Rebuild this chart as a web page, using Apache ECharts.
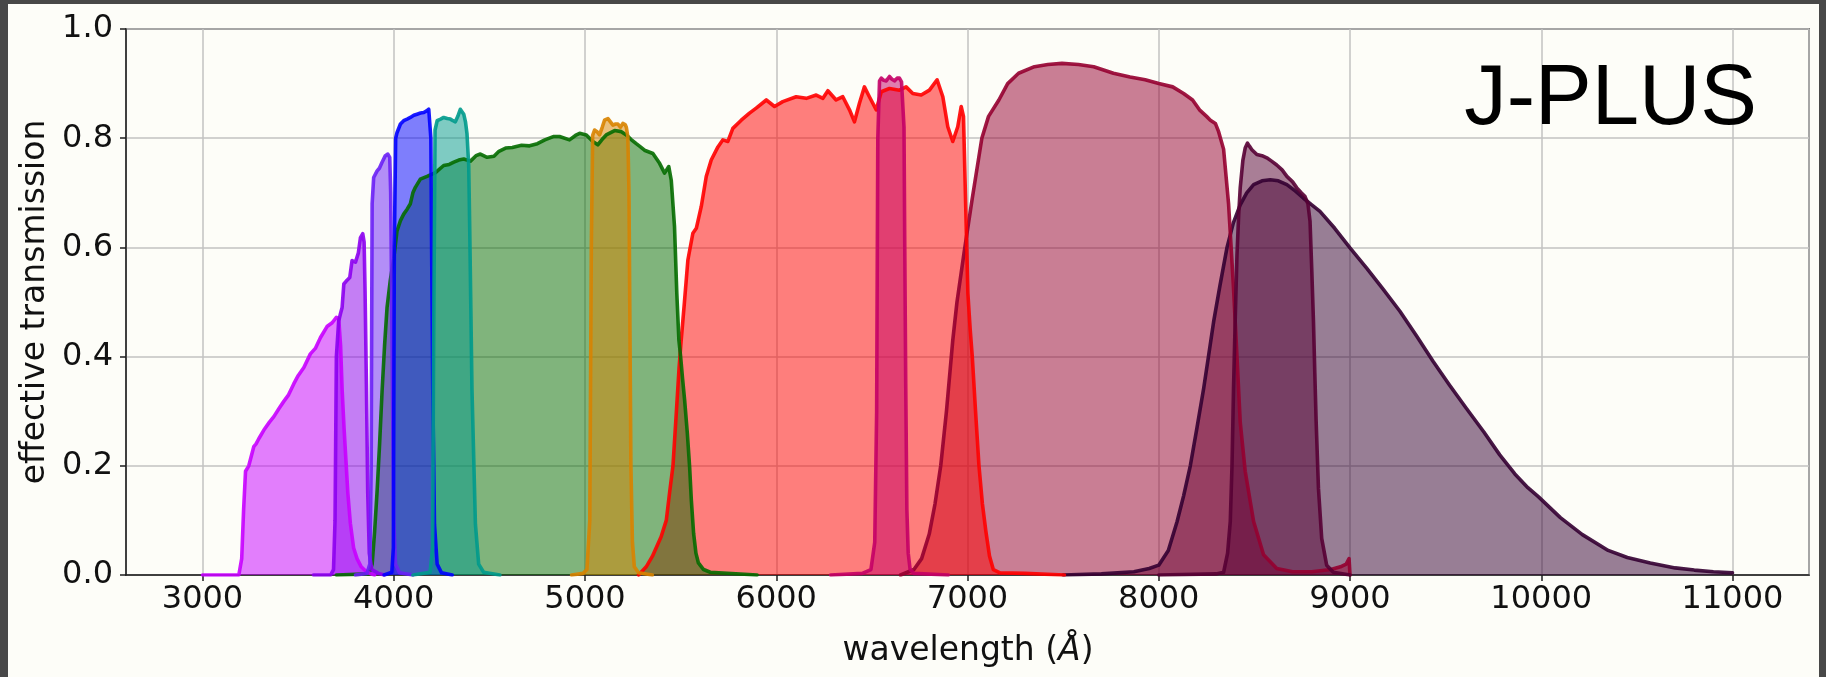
<!DOCTYPE html>
<html><head><meta charset="utf-8">
<script src="https://cdn.jsdelivr.net/npm/echarts@6/dist/echarts.min.js"></script>
<style>html,body{margin:0;padding:0;background:#fdfdf8;}#c{width:1826px;height:677px;}</style>
</head><body><div id="c"></div>
<script>
// ---- data: [wavelength (Å), effective transmission] ----
const uJAVA = [[3000,0],[3190,0],[3205,0.03],[3215,0.12],[3225,0.19],[3242,0.2],[3268,0.235],[3280,0.24],[3295,0.25],[3320,0.265],[3350,0.28],[3373,0.29],[3400,0.305],[3425,0.318],[3450,0.33],[3477,0.35],[3500,0.365],[3530,0.38],[3564,0.405],[3590,0.415],[3617,0.435],[3651,0.455],[3678,0.462],[3700,0.472],[3712,0.47],[3722,0.42],[3730,0.34],[3740,0.27],[3750,0.21],[3760,0.15],[3773,0.095],[3790,0.05],[3808,0.03],[3830,0.015],[3860,0.005],[3900,0]];
const J0378 = [[3580,0],[3670,0],[3685,0.01],[3693,0.1],[3700,0.4],[3712,0.465],[3721,0.478],[3730,0.49],[3739,0.533],[3756,0.54],[3770,0.545],[3782,0.576],[3800,0.573],[3815,0.59],[3826,0.618],[3838,0.625],[3845,0.61],[3850,0.52],[3857,0.35],[3864,0.15],[3872,0.04],[3885,0.01],[3920,0.003],[3950,0]];
const J0395 = [[3800,0],[3860,0.003],[3875,0.02],[3882,0.2],[3887,0.68],[3895,0.728],[3913,0.74],[3925,0.745],[3939,0.756],[3956,0.768],[3969,0.771],[3979,0.765],[3984,0.7],[3988,0.55],[3993,0.35],[4000,0.1],[4009,0.02],[4030,0.004],[4100,0]];
const J0410 = [[3950,0],[3990,0.005],[3998,0.05],[4003,0.6],[4010,0.8],[4017,0.81],[4035,0.826],[4052,0.832],[4070,0.835],[4087,0.838],[4105,0.842],[4122,0.844],[4140,0.846],[4157,0.847],[4172,0.85],[4183,0.853],[4190,0.85],[4194,0.8],[4197,0.64],[4204,0.34],[4213,0.093],[4227,0.02],[4250,0.004],[4306,0]];
const J0430 = [[4100,0],[4190,0.005],[4203,0.05],[4210,0.5],[4216,0.815],[4227,0.832],[4245,0.835],[4261,0.838],[4280,0.836],[4296,0.835],[4310,0.832],[4322,0.83],[4335,0.84],[4348,0.853],[4358,0.85],[4366,0.844],[4375,0.83],[4383,0.808],[4392,0.75],[4397,0.64],[4409,0.34],[4427,0.093],[4444,0.02],[4470,0.005],[4555,0]];
const gSDSS = [[3700,0],[3870,0.002],[3887,0.02],[3900,0.08],[3913,0.154],[3926,0.24],[3939,0.337],[3952,0.42],[3965,0.49],[3982,0.54],[4000,0.58],[4017,0.63],[4035,0.649],[4052,0.661],[4070,0.67],[4087,0.68],[4100,0.7],[4113,0.71],[4139,0.725],[4174,0.73],[4218,0.737],[4261,0.75],[4290,0.752],[4314,0.756],[4340,0.76],[4366,0.762],[4401,0.758],[4430,0.768],[4453,0.771],[4488,0.765],[4524,0.767],[4550,0.776],[4585,0.782],[4620,0.783],[4668,0.787],[4710,0.786],[4751,0.79],[4790,0.797],[4834,0.803],[4867,0.803],[4919,0.797],[4950,0.805],[4972,0.809],[5007,0.806],[5041,0.794],[5067,0.788],[5090,0.798],[5111,0.806],[5155,0.814],[5190,0.812],[5216,0.806],[5240,0.798],[5268,0.79],[5290,0.784],[5311,0.778],[5355,0.772],[5390,0.754],[5416,0.736],[5438,0.748],[5451,0.723],[5468,0.638],[5480,0.516],[5491,0.43],[5500,0.4],[5510,0.36],[5521,0.32],[5535,0.26],[5547,0.198],[5556,0.137],[5568,0.076],[5580,0.04],[5593,0.022],[5620,0.01],[5655,0.005],[5900,0]];
const J0515 = [[4930,0],[4990,0.003],[5010,0.01],[5025,0.1],[5033,0.6],[5040,0.805],[5050,0.815],[5063,0.812],[5076,0.806],[5090,0.82],[5102,0.833],[5120,0.836],[5133,0.83],[5146,0.824],[5160,0.826],[5172,0.826],[5185,0.82],[5198,0.827],[5210,0.825],[5216,0.82],[5224,0.803],[5230,0.7],[5235,0.45],[5240,0.2],[5248,0.06],[5258,0.015],[5280,0.004],[5352,0]];
const rSDSS = [[5280,0],[5320,0.015],[5352,0.034],[5398,0.07],[5425,0.1],[5442,0.15],[5460,0.2],[5478,0.3],[5492,0.38],[5503,0.43],[5520,0.5],[5538,0.577],[5564,0.626],[5582,0.635],[5608,0.675],[5634,0.73],[5660,0.76],[5695,0.784],[5721,0.797],[5747,0.794],[5773,0.818],[5817,0.833],[5860,0.846],[5895,0.855],[5948,0.87],[5991,0.858],[6034,0.867],[6104,0.876],[6157,0.873],[6209,0.879],[6244,0.873],[6270,0.887],[6313,0.87],[6348,0.876],[6383,0.852],[6409,0.83],[6435,0.864],[6461,0.894],[6487,0.876],[6523,0.852],[6549,0.885],[6592,0.891],[6644,0.888],[6679,0.894],[6714,0.882],[6758,0.879],[6801,0.888],[6841,0.907],[6871,0.876],[6897,0.821],[6923,0.794],[6949,0.821],[6967,0.858],[6979,0.84],[6989,0.699],[7002,0.516],[7014,0.45],[7025,0.4],[7042,0.3],[7060,0.2],[7078,0.13],[7096,0.08],[7115,0.035],[7135,0.01],[7170,0.004],[7300,0.003],[7507,0]];
const J0660 = [[6284,0],[6450,0.003],[6495,0.01],[6515,0.06],[6525,0.3],[6531,0.8],[6540,0.905],[6549,0.91],[6562,0.906],[6575,0.905],[6592,0.913],[6605,0.908],[6618,0.905],[6632,0.91],[6644,0.91],[6655,0.903],[6662,0.9],[6668,0.82],[6672,0.6],[6677,0.35],[6683,0.12],[6690,0.04],[6700,0.01],[6720,0.003],[6900,0]];
const iSDSS = [[6650,0],[6720,0.01],[6760,0.03],[6800,0.075],[6830,0.13],[6860,0.2],[6890,0.3],[6923,0.43],[6945,0.5],[6982,0.59],[7025,0.69],[7075,0.8],[7110,0.84],[7164,0.87],[7210,0.9],[7267,0.919],[7350,0.931],[7420,0.935],[7494,0.937],[7580,0.935],[7660,0.931],[7763,0.919],[7850,0.912],[7929,0.907],[8000,0.9],[8073,0.894],[8130,0.882],[8177,0.87],[8213,0.852],[8250,0.84],[8270,0.833],[8296,0.827],[8313,0.812],[8339,0.78],[8365,0.68],[8391,0.525],[8409,0.4],[8426,0.28],[8452,0.19],[8496,0.098],[8548,0.037],[8617,0.012],[8700,0.006],[8800,0.006],[8900,0.01],[8950,0.015],[8980,0.02],[8995,0.03],[9000,0]];
const J0861 = [[8000,0],[8300,0.002],[8339,0.005],[8360,0.04],[8374,0.098],[8383,0.2],[8391,0.342],[8400,0.47],[8409,0.586],[8418,0.66],[8426,0.709],[8440,0.76],[8452,0.782],[8464,0.791],[8475,0.785],[8487,0.779],[8513,0.77],[8540,0.768],[8565,0.764],[8590,0.758],[8617,0.751],[8645,0.742],[8670,0.73],[8700,0.72],[8722,0.709],[8745,0.7],[8765,0.693],[8780,0.68],[8791,0.648],[8800,0.56],[8809,0.464],[8816,0.37],[8823,0.281],[8835,0.159],[8852,0.067],[8878,0.018],[8913,0.005],[9000,0]];
const zSDSS = [[7500,0],[7700,0.002],[7870,0.006],[7950,0.012],[8000,0.018],[8050,0.045],[8096,0.098],[8130,0.145],[8165,0.2],[8200,0.27],[8235,0.342],[8260,0.4],[8287,0.464],[8320,0.53],[8357,0.6],[8390,0.645],[8426,0.678],[8460,0.7],[8496,0.715],[8540,0.722],[8583,0.724],[8625,0.722],[8670,0.715],[8715,0.703],[8757,0.69],[8800,0.678],[8843,0.666],[8920,0.635],[9000,0.599],[9087,0.562],[9170,0.525],[9261,0.483],[9350,0.437],[9435,0.391],[9520,0.348],[9609,0.305],[9700,0.262],[9783,0.22],[9862,0.185],[9930,0.16],[9986,0.143],[10100,0.105],[10215,0.074],[10350,0.045],[10450,0.032],[10570,0.022],[10700,0.013],[10800,0.009],[10900,0.006],[11000,0.004]];

const xTicks = [3000,4000,5000,6000,7000,8000,9000,10000,11000];
const yTicks = [0.0,0.2,0.4,0.6,0.8,1.0];

// drawing order (later on top) and colours
const layers = [
  ['zSDSS', zSDSS, '#340032'],
  ['iSDSS', iSDSS, '#950030'],
  ['rSDSS', rSDSS, '#ff0000'],
  ['gSDSS', gSDSS, '#046c00'],
  ['uJAVA', uJAVA, '#c800ff'],
  ['J0378', J0378, '#8c00f0'],
  ['J0395', J0395, '#6a20f5'],
  ['J0410', J0410, '#0000ff'],
  ['J0430', J0430, '#009a8c'],
  ['J0515', J0515, '#d88300'],
  ['J0660', J0660, '#c40066'],
  ['J0861', J0861, '#560034']
];

const FONT = 'DejaVu Sans';
const chart = echarts.init(document.getElementById('c'), null, {renderer:'canvas'});
chart.setOption({
  animation: false,
  backgroundColor: '#fdfdf8',
  grid: {left:126, top:29, width:1683, height:546, show:true, borderColor:'#1e1e1e', borderWidth:1.5, backgroundColor:'transparent'},
  xAxis: {
    type:'value', min:2600, max:11400, splitNumber:9,
    axisLine:{show:true, lineStyle:{color:'#1e1e1e', width:1.5}},
    axisTick:{show:true, length:6, lineStyle:{color:'#1e1e1e', width:1.5}},
    axisLabel:{show:true, margin:9, fontFamily:FONT, fontSize:32, color:'#111', showMinLabel:false, showMaxLabel:false,
      formatter: v => xTicks.indexOf(v) >= 0 ? String(v) : ''},
    splitLine:{show:true, lineStyle:{color:'#c2c2c2', width:1.5}}
  },
  yAxis: {
    type:'value', min:0, max:1, interval:0.2,
    axisLine:{show:true, lineStyle:{color:'#1e1e1e', width:1.5}},
    axisTick:{show:true, length:6, lineStyle:{color:'#1e1e1e', width:1.5}},
    axisLabel:{show:true, margin:13, fontFamily:FONT, fontSize:32, color:'#111',
      formatter: v => yTicks.some(t => Math.abs(t - v) < 1e-9) ? v.toFixed(1) : ''},
    splitLine:{show:true, lineStyle:{color:'#c2c2c2', width:1.5}}
  },
  graphic: [
    {type:'rect', shape:{x:0, y:0, width:8, height:677}, style:{fill:'#484848'}, silent:true},
    {type:'rect', shape:{x:0, y:0, width:1826, height:4}, style:{fill:'#484848'}, silent:true},
    {type:'rect', shape:{x:1819, y:0, width:7, height:677}, style:{fill:'#484848'}, silent:true},
    {type:'text', x:35, y:302, rotation:Math.PI/2, silent:true,
      style:{text:'effective transmission', fontFamily:FONT, fontSize:33, fill:'#111', align:'center', verticalAlign:'middle'}},
    {type:'text', x:968, y:651, silent:true,
      style:{text:'wavelength ({it|Å})', fontFamily:FONT, fontSize:33, fill:'#111', align:'center', verticalAlign:'middle',
        rich:{it:{fontStyle:'italic', fontFamily:FONT, fontSize:33, fill:'#111'}}}},
    {type:'text', x:1757, y:101, silent:true, z:100,
      style:{text:'J-PLUS', fontFamily:'Liberation Sans', fontSize:85, fill:'#000', align:'right', verticalAlign:'middle'}}
  ],
  series: layers.map(([name, pts, col]) => ({
    type:'line', name:name, data:pts, showSymbol:false, symbol:'none', smooth:false,
    lineStyle:{width:3.6, color:col, opacity:0.9, cap:'round', join:'round'},
    itemStyle:{color:col},
    areaStyle:{color:col, opacity:0.5},
    emphasis:{disabled:true}
  }))
});
</script></body></html>
